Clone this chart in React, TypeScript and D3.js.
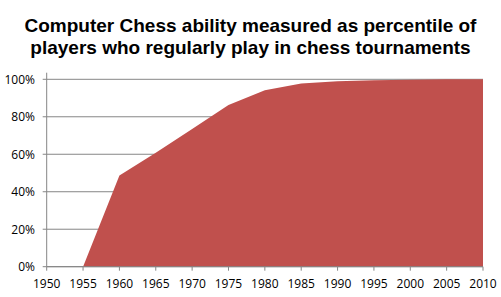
import React from "react";
import * as d3 from "d3";

const years = [1955, 1960, 1965, 1970, 1975, 1980, 1985, 1990, 1995, 2000, 2005, 2010];
const percentile = [0, 48.7, 60.8, 73.5, 86.3, 94.2, 97.8, 99, 99.5, 99.8, 100, 100];
const xTicks = [1950, 1955, 1960, 1965, 1970, 1975, 1980, 1985, 1990, 1995, 2000, 2005, 2010];
const yTicks = [0, 20, 40, 60, 80, 100];
const titleLines = [
  "Computer Chess ability measured as percentile of",
  "players who regularly play in chess tournaments",
];

export default function App() {
  const W = 501, H = 297;
  const x = d3.scaleLinear().domain([1950, 2010]).range([46.7, 483]);
  const y = d3.scaleLinear().domain([0, 100]).range([266.7, 79.3]);
  const data = years.map((yr, i) => ({ yr, v: percentile[i] }));
  const area = d3.area<{ yr: number; v: number }>()
    .x(d => x(d.yr))
    .y0(y(0))
    .y1(d => y(d.v));
  const tickFont = "'Open Sans', 'DejaVu Sans', sans-serif";
  return (
    <svg width={W} height={H} style={{ position: "absolute", left: 0, top: 0 }}>
      <rect width={W} height={H} fill="#fff" />
      {titleLines.map((t, i) => (
        <text key={i} x={250.5} y={31.5 + i * 22.5} textAnchor="middle"
          fontFamily="'Liberation Sans', Arial, sans-serif" fontWeight="bold" fontSize={19} fill="#000">{t}</text>
      ))}
      {yTicks.map(t => (
        <g key={t}>
          <line x1={x(1950)} x2={x(2010)} y1={y(t)} y2={y(t)} stroke="#868686" strokeWidth={1} />
          <line x1={x(1950) - 4} x2={x(1950)} y1={y(t)} y2={y(t)} stroke="#868686" strokeWidth={1} />
          <text x={35} y={y(t) + 4.3} textAnchor="end" fontFamily={tickFont} fontSize={12} fill="#000">{t}%</text>
        </g>
      ))}
      <path d={area(data) || ""} fill="#C0504D" />
      <line x1={x(1950)} x2={x(1950)} y1={72.7} y2={y(0)} stroke="#868686" strokeWidth={1} />
      <line x1={x(1950)} x2={x(2010)} y1={y(0)} y2={y(0)} stroke="#868686" strokeWidth={1} />
      {xTicks.map(t => (
        <g key={t}>
          <line x1={x(t)} x2={x(t)} y1={y(0)} y2={y(0) + 4} stroke="#868686" strokeWidth={1} />
          <text x={x(t)} y={288.3} textAnchor="middle" fontFamily={tickFont} fontSize={12} fill="#000">{t}</text>
        </g>
      ))}
    </svg>
  );
}
